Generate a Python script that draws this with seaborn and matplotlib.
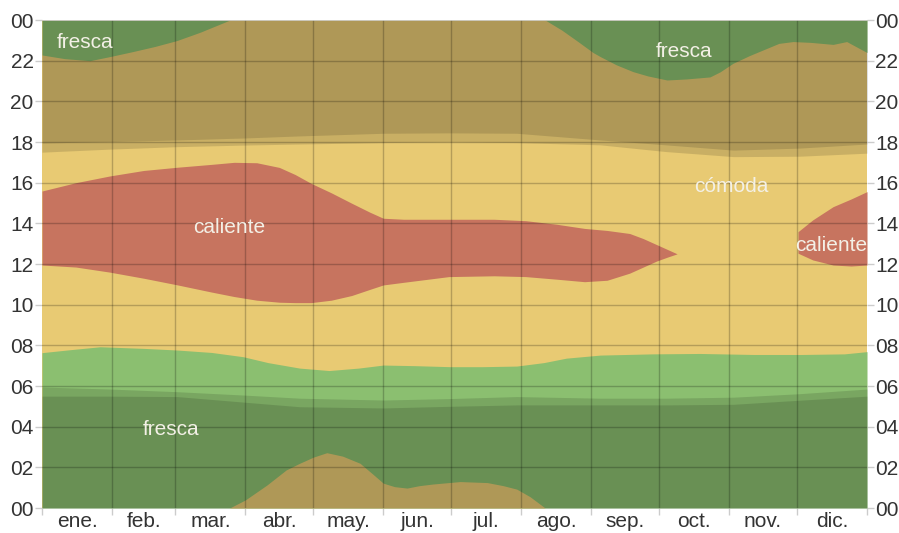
import matplotlib
matplotlib.use("Agg")
import matplotlib.pyplot as plt
import seaborn as sns

# month boundaries (day of year) and labels
month_starts = [0, 31, 59, 90, 120, 151, 181, 212, 243, 273, 304, 334, 365]
month_labels = ["ene.", "feb.", "mar.", "abr.", "may.", "jun.",
                "jul.", "ago.", "sep.", "oct.", "nov.", "dic."]
hour_labels = ["00", "02", "04", "06", "08", "10", "12",
               "14", "16", "18", "20", "22", "00"]

# morning cool band: fresca from 0h up to this hour
morning_days = [0, 12, 25.7, 45, 59.7, 75, 89, 100, 114, 127, 140, 151, 165, 180.5,
                195, 210, 222, 232, 247, 270, 291, 315, 336, 355, 365]
morning_top = [7.64, 7.78, 7.93, 7.85, 7.77, 7.65, 7.44, 7.15, 6.88, 6.76, 6.88, 7.03, 7.0, 6.95,
               6.95, 6.98, 7.15, 7.37, 7.52, 7.58, 7.6, 7.55, 7.55, 7.58, 7.69]

# warm nights (cómoda) near midnight, apr-aug
warmnight_days = [83, 90, 99.5, 108, 114, 120, 126, 133, 140.7, 146, 151, 156, 161.5,
                  167, 173, 185, 197, 204, 210, 216, 222.6]
warmnight_top = [0, 0.4, 1.13, 1.87, 2.2, 2.5, 2.72, 2.55, 2.2, 1.7, 1.22, 1.05, 0.98,
                 1.1, 1.18, 1.3, 1.25, 1.1, 0.93, 0.55, 0.0]

# evening cool band: fresca from this hour up to 24h
evening_a_days = [0, 10, 21.2, 30, 40.3, 50, 59.7, 70, 83.2]
evening_a_start = [22.28, 22.1, 22.0, 22.2, 22.45, 22.7, 22.99, 23.4, 24.0]
evening_b_days = [222.6, 230, 237, 243.8, 247, 254, 261.5, 268, 276.5, 285, 295.5, 300,
                  305.7, 313, 320.8, 326, 332.3, 340, 350, 356, 360, 365]
evening_b_start = [24.0, 23.5, 22.95, 22.4, 22.2, 21.8, 21.46, 21.25, 21.05, 21.1, 21.2, 21.45,
                   21.87, 22.25, 22.61, 22.85, 22.94, 22.9, 22.8, 22.94, 22.7, 22.4]

# hot afternoons (caliente)
hot_a_days = [0, 15, 30, 45, 60, 75, 85, 95, 105, 112, 119, 128, 137, 145, 151, 160,
              180, 200, 214, 228, 240, 250, 260, 266, 272, 277, 281]
hot_a_top = [15.59, 16.0, 16.33, 16.6, 16.76, 16.9, 17.0, 16.98, 16.75, 16.4, 15.97, 15.5,
             14.99, 14.55, 14.25, 14.2, 14.2, 14.2, 14.13, 13.95, 13.75, 13.65, 13.5,
             13.25, 12.95, 12.7, 12.5]
hot_a_bottom = [11.95, 11.85, 11.6, 11.3, 10.97, 10.62, 10.4, 10.22, 10.12, 10.1, 10.1, 10.22,
                10.45, 10.75, 10.97, 11.1, 11.38, 11.42, 11.38, 11.25, 11.13, 11.2, 11.55,
                11.85, 12.15, 12.35, 12.5]
hot_b_days = [334.5, 341, 350, 358, 365]
hot_b_top = [13.59, 14.17, 14.82, 15.2, 15.56]
hot_b_bottom = [12.53, 12.2, 11.95, 11.9, 11.95]

# sun: sunrise / end of dawn darkness, sunset / start of night
sun_days = [0, 30, 59.7, 90, 114, 151, 180, 210, 247, 276, 306, 335, 365]
sunrise = [5.95, 5.85, 5.72, 5.55, 5.4, 5.31, 5.38, 5.48, 5.4, 5.4, 5.45, 5.62, 5.85]
dawn = [5.5, 5.5, 5.48, 5.2, 4.98, 4.92, 5.0, 5.07, 5.07, 5.07, 5.1, 5.3, 5.5]
sunset = [17.5, 17.65, 17.77, 17.85, 17.9, 17.97, 18.0, 17.97, 17.86, 17.53, 17.28, 17.3, 17.45]
dusk = [17.95, 18.02, 18.1, 18.2, 18.3, 18.43, 18.45, 18.43, 18.1, 17.86, 17.6, 17.7, 17.9]

C_FRESCA = "#8bbf70"
C_COMODA = "#e8ca73"
C_CALIENTE = "#c7745f"

sns.set_theme(style="white")
plt.rcParams["font.family"] = ["Liberation Sans", "DejaVu Sans"]

fig = plt.figure(figsize=(8.99, 5.33), dpi=100)
ax = fig.add_axes([42 / 899, 25 / 533, 825 / 899, 488 / 533])

ax.fill_between([0, 365], 0, 24, color=C_COMODA, lw=0)
ax.fill_between(morning_days, 0, morning_top, color=C_FRESCA, lw=0)
ax.fill_between(warmnight_days, 0, warmnight_top, color=C_COMODA, lw=0)
ax.fill_between(evening_a_days, evening_a_start, 24, color=C_FRESCA, lw=0)
ax.fill_between(evening_b_days, evening_b_start, 24, color=C_FRESCA, lw=0)
ax.fill_between(hot_a_days, hot_a_bottom, hot_a_top, color=C_CALIENTE, lw=0)
ax.fill_between(hot_b_days, hot_b_bottom, hot_b_top, color=C_CALIENTE, lw=0)

# night shading with twilight
for lo in (sunrise, dawn):
    ax.fill_between(sun_days, 0, lo, color="black", alpha=0.13, lw=0)
for hi in (sunset, dusk):
    ax.fill_between(sun_days, hi, 24, color="black", alpha=0.13, lw=0)

# grid
for d in month_starts[1:-1]:
    ax.axvline(d, color="black", alpha=0.22, lw=1)
for h in range(2, 24, 2):
    ax.axhline(h, color="black", alpha=0.22, lw=1)
ax.axhline(24, color="#cccccc", lw=1.2)

txt = dict(color="#f3f0e6", fontsize=15, ha="center", va="center")
ax.text(19, 22.9, "fresca", **txt)
ax.text(284, 22.45, "fresca", **txt)
ax.text(57, 3.85, "fresca", **txt)
ax.text(83, 13.8, "caliente", **txt)
ax.text(305, 15.8, "cómoda", **txt)
ax.text(349, 12.9, "caliente", **txt)

ax.set_xlim(0, 365)
ax.set_ylim(0, 24)
ax.set_xticks(month_starts)
ax.set_xticklabels([])
mids = [(a + b) / 2 for a, b in zip(month_starts[:-1], month_starts[1:])]
ax.set_xticks(mids, minor=True)
ax.set_xticklabels(month_labels, minor=True)
ax.tick_params(axis="x", which="major", length=5, color="#cccccc", width=1, bottom=True)
ax.tick_params(axis="x", which="minor", length=0, labelsize=15, labelcolor="#333333", pad=3)

ax.set_yticks(range(0, 25, 2))
ax.set_yticklabels(hour_labels)
ax.tick_params(axis="y", which="major", length=5, color="#cccccc", width=1,
               left=True, right=True, labelleft=True, labelright=True,
               labelsize=15, labelcolor="#333333", pad=1)
for s in ax.spines.values():
    s.set_visible(False)

fig.savefig("out.png", dpi=100)
